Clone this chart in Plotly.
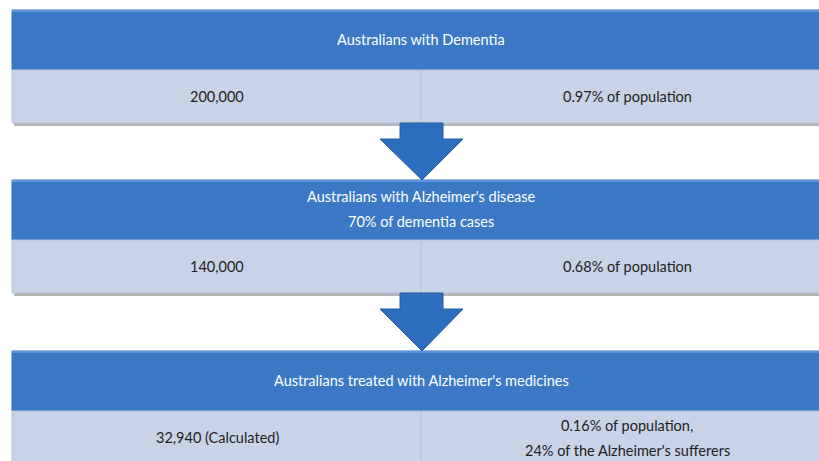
import plotly.graph_objects as go

# ---- content ----
headers = [
    ["Australians with Dementia"],
    ["Australians with Alzheimer's disease", "70% of dementia cases"],
    ["Australians treated with Alzheimer's medicines"],
]
left_values = [["200,000"], ["140,000"], ["32,940 (Calculated)"]]
right_values = [
    ["0.97% of population"],
    ["0.68% of population"],
    ["0.16% of population,", "24% of the Alzheimer's sufferers"],
]

# ---- layout constants (pixel space) ----
W, H = 819, 461
X0, X1, XMID = 12, 835, 421
header_tops = [10, 180, 351]
HEADER_H = 60
ROW_H = 53
LINE_GAP = 25
HEADER_COL = "#3b79c7"
ROW_COL = "#c8d3e8"
ARROW_COL = "#2c6dbd"
FONT = "Lato"
FSIZE = 14.5

fig = go.Figure()
shapes = []
ann = []


def add_lines(x, yc, lines, color):
    n = len(lines)
    for k, t in enumerate(lines):
        y = yc + (k - (n - 1) / 2) * LINE_GAP
        ann.append(dict(x=x, y=y, text=t, showarrow=False,
                        font=dict(family=FONT, size=FSIZE, color=color),
                        yanchor="middle", xanchor="center"))


for i, top in enumerate(header_tops):
    hb = top + HEADER_H
    rb = hb + ROW_H
    shapes.append(dict(type="rect", x0=X0 + 2, x1=X1, y0=rb, y1=rb + 3,
                       fillcolor="rgba(90,90,90,0.45)", line_width=0, layer="below"))
    shapes.append(dict(type="rect", x0=X0, x1=X1, y0=top, y1=hb,
                       fillcolor=HEADER_COL, line=dict(color="#3470bb", width=1)))
    shapes.append(dict(type="rect", x0=X0, x1=X1, y0=top, y1=top + 2,
                       fillcolor="#5f95d8", line_width=0))
    shapes.append(dict(type="rect", x0=X0, x1=X1, y0=hb, y1=rb,
                       fillcolor=ROW_COL, line=dict(color="#b9c5dc", width=1)))
    shapes.append(dict(type="line", x0=XMID, x1=XMID, y0=hb, y1=rb,
                       line=dict(color="#b3bfd6", width=1)))
    add_lines(XMID, top + HEADER_H / 2 - 1, headers[i], "white")
    add_lines(217, hb + ROW_H / 2, left_values[i], "#222222")
    add_lines(627, hb + ROW_H / 2, right_values[i], "#222222")

for i in range(2):
    ytop = header_tops[i] + HEADER_H + ROW_H
    ytip = header_tops[i + 1]
    yhead = ytop + 16
    path = (f"M 400 {ytop} L 443 {ytop} L 443 {yhead} L 463 {yhead} "
            f"L 422 {ytip} L 380 {yhead} L 400 {yhead} Z")
    shapes.append(dict(type="path", path=path, fillcolor=ARROW_COL,
                       line=dict(color="#215ea8", width=1)))

fig.update_layout(
    width=W, height=H,
    margin=dict(l=0, r=0, t=0, b=0),
    paper_bgcolor="white", plot_bgcolor="white",
    xaxis=dict(range=[0, W], visible=False, fixedrange=True),
    yaxis=dict(range=[H, 0], visible=False, fixedrange=True),
    shapes=shapes, annotations=ann, showlegend=False,
)
fig.add_trace(go.Scatter(x=[], y=[]))
fig.write_html("out.html", config={"displayModeBar": False},
               post_script="document.body.style.margin='0';document.body.style.overflow='hidden';")
